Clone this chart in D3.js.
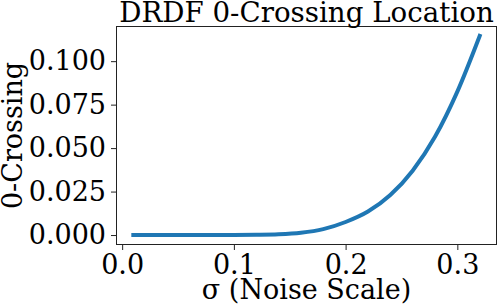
<!DOCTYPE html>
<html>
<head>
<meta charset="utf-8">
<script src="https://cdn.jsdelivr.net/npm/d3@7"></script>
<style>
  body { margin: 0; background: #fff; }
  text { font-family: "DejaVu Serif", serif; fill: #000; }
</style>
</head>
<body>
<svg width="498" height="308"></svg>
<script>
var svg = d3.select("svg");

// sigma values and where the 0-crossing lands
var sigma = [0.01, 0.05, 0.10, 0.12, 0.14, 0.16, 0.18, 0.20, 0.22, 0.24, 0.26, 0.28, 0.30, 0.32];
var crossing = [0, 0, 0, 0.0001, 0.0004, 0.0013, 0.0034, 0.0075, 0.0135, 0.0230, 0.0370, 0.0565, 0.0825, 0.1145];
var xTicks = [0.0, 0.1, 0.2, 0.3];
var yTicks = [0.000, 0.025, 0.050, 0.075, 0.100];

var width = 498;
var height = 308;
var margin = {left: 116, top: 26, right: 1, bottom: 63};
var fs = 27;

var x = d3.scaleLinear().domain([-0.0055, 0.3355]).range([margin.left, width - margin.right]);
var y = d3.scaleLinear().domain([-0.005725, 0.120225]).range([height - margin.bottom, margin.top]);

var pts = sigma.map(function(s, i) { return {x: s, y: crossing[i]}; });

var line = d3.line()
  .x(function(d) { return x(d.x); })
  .y(function(d) { return y(d.y); })
  .curve(d3.curveMonotoneX);

svg.append("path")
  .attr("d", line(pts))
  .attr("fill", "none")
  .attr("stroke", "#1f77b4")
  .attr("stroke-width", 4)
  .attr("stroke-linecap", "square");

var xAxis = d3.axisBottom(x).tickValues(xTicks).tickFormat(d3.format(".1f")).tickSize(5).tickPadding(5);
var yAxis = d3.axisLeft(y).tickValues(yTicks).tickFormat(d3.format(".3f")).tickSize(5).tickPadding(5);

var gx = svg.append("g")
  .attr("transform", "translate(0," + (height - margin.bottom) + ")")
  .call(xAxis);
var gy = svg.append("g")
  .attr("transform", "translate(" + margin.left + ",0)")
  .call(yAxis);

[gx, gy].forEach(function(g) {
  g.select(".domain").remove();
  g.selectAll("line").attr("stroke", "#222").attr("stroke-width", 1);
  g.selectAll("text").style("font-family", "DejaVu Serif").style("font-size", fs + "px");
});

// box
svg.append("rect")
  .attr("x", margin.left + 0.5)
  .attr("y", margin.top + 0.5)
  .attr("width", width - margin.right - margin.left - 1)
  .attr("height", height - margin.bottom - margin.top - 1)
  .attr("fill", "none")
  .attr("stroke", "#222")
  .attr("stroke-width", 1);

svg.append("text")
  .attr("x", (margin.left + width - margin.right) / 2)
  .attr("y", 22)
  .attr("text-anchor", "middle")
  .style("font-size", "27.7px")
  .text("DRDF 0-Crossing Location");

svg.append("text")
  .attr("x", (margin.left + width - margin.right) / 2)
  .attr("y", 299)
  .attr("text-anchor", "middle")
  .style("font-size", fs + "px")
  .text("σ (Noise Scale)");

svg.append("text")
  .attr("transform", "translate(22," + ((margin.top + height - margin.bottom) / 2) + ") rotate(-90)")
  .attr("text-anchor", "middle")
  .style("font-size", fs + "px")
  .text("0-Crossing");
</script>
</body>
</html>
